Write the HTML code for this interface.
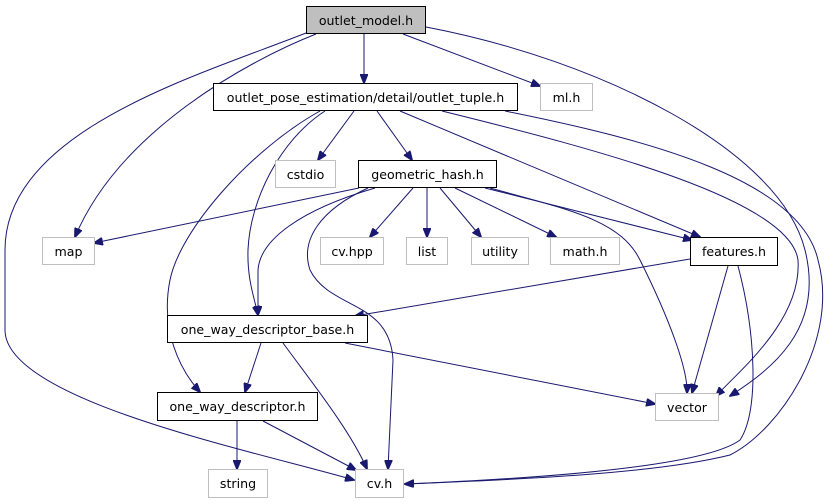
<!DOCTYPE html>
<html><head><meta charset="utf-8"><style>
html,body{margin:0;padding:0;background:#fff;}
svg{display:block;}
text{font-family:"DejaVu Sans","Liberation Sans",sans-serif;font-size:12.6px;fill:#000;}
</style></head><body>
<svg width="835" height="504" viewBox="0 0 835 504" xmlns="http://www.w3.org/2000/svg">
<defs>
<marker id="a" markerWidth="10" markerHeight="8" refX="9" refY="4" orient="auto" markerUnits="userSpaceOnUse">
<path d="M0,0 L10,4 L0,8 Z" fill="#191970" stroke="#191970"/>
</marker>
</defs>
<g fill="none" stroke="#191970" stroke-width="1" marker-end="url(#a)">
<path d="M364,34 L364,83"/>
<path d="M403,34 L540,86"/>
<path d="M316,34 C250,60 120,130 75,237"/>
<path d="M306,33 C200,75 5,130 5,250 L5,330 C5,400 250,450 354,480"/>
<path d="M426,27 C600,60 780,150 805,250 C825,330 770,370 730,396"/>
<path d="M354,111 L318,160"/>
<path d="M377,111 L412,160"/>
<path d="M400,111 L700,237"/>
<path d="M442,111 C600,150 790,200 798,260 C802,320 740,370 716,396"/>
<path d="M505,111 C650,140 800,180 818,260 C840,340 780,430 730,455 C650,475 500,480 405,484"/>
<path d="M325,111 C280,140 250,200 248,250 C247,280 255,300 258,315"/>
<path d="M320,111 C250,150 180,230 170,280 C160,330 180,370 200,392"/>
<path d="M359,188 L94,243"/>
<path d="M413,188 L370,237"/>
<path d="M427,188 L427,237"/>
<path d="M440,188 L481,237"/>
<path d="M455,188 L556,237"/>
<path d="M485,188 L692,240"/>
<path d="M490,188 C570,210 620,220 640,260 C670,320 688,370 687,393"/>
<path d="M375,188 C300,210 260,240 258,270 L258,315"/>
<path d="M368,188 C320,210 300,240 310,270 C330,310 390,300 393,360 L388,469"/>
<path d="M690,259 L355,316"/>
<path d="M728,266 L692,393"/>
<path d="M738,266 C755,330 760,410 740,440 C700,470 500,480 405,484"/>
<path d="M261,343 L245,392"/>
<path d="M283,343 C310,380 350,430 367,469"/>
<path d="M345,343 L655,404"/>
<path d="M237,421 L237,469"/>
<path d="M263,421 L356,470"/>
</g>
<g stroke-width="1">
<rect x="306.5" y="6.5" width="119" height="27" fill="#bfbfbf" stroke="#000"/>
<rect x="213.5" y="83.5" width="304" height="27" fill="#fff" stroke="#000"/>
<rect x="540.5" y="83.5" width="52" height="27" fill="#fff" stroke="#bfbfbf"/>
<rect x="275.5" y="160.5" width="60" height="27" fill="#fff" stroke="#bfbfbf"/>
<rect x="358.5" y="160.5" width="138" height="27" fill="#fff" stroke="#000"/>
<rect x="42.5" y="237.5" width="52" height="27" fill="#fff" stroke="#bfbfbf"/>
<rect x="320.5" y="237.5" width="63" height="27" fill="#fff" stroke="#bfbfbf"/>
<rect x="406.5" y="237.5" width="41" height="27" fill="#fff" stroke="#bfbfbf"/>
<rect x="471.5" y="237.5" width="57" height="27" fill="#fff" stroke="#bfbfbf"/>
<rect x="550.5" y="237.5" width="69" height="27" fill="#fff" stroke="#bfbfbf"/>
<rect x="690.5" y="237.5" width="87" height="28" fill="#fff" stroke="#000"/>
<rect x="167.5" y="315.5" width="200" height="27" fill="#fff" stroke="#000"/>
<rect x="157.5" y="392.5" width="160" height="28" fill="#fff" stroke="#000"/>
<rect x="655.5" y="393.5" width="63" height="27" fill="#fff" stroke="#bfbfbf"/>
<rect x="208.5" y="469.5" width="59" height="28" fill="#fff" stroke="#bfbfbf"/>
<rect x="355.5" y="469.5" width="48" height="28" fill="#fff" stroke="#bfbfbf"/>
</g>
<g text-anchor="middle">
<text x="366" y="25">outlet_model.h</text>
<text x="365.5" y="102">outlet_pose_estimation/detail/outlet_tuple.h</text>
<text x="566.5" y="102">ml.h</text>
<text x="305.5" y="179">cstdio</text>
<text x="427.5" y="179">geometric_hash.h</text>
<text x="68.5" y="256">map</text>
<text x="352" y="256">cv.hpp</text>
<text x="427" y="256">list</text>
<text x="500" y="256">utility</text>
<text x="585" y="256">math.h</text>
<text x="734" y="256">features.h</text>
<text x="267.5" y="334">one_way_descriptor_base.h</text>
<text x="237.5" y="411">one_way_descriptor.h</text>
<text x="687" y="412">vector</text>
<text x="238" y="488">string</text>
<text x="379.5" y="488">cv.h</text>
</g>
</svg>
</body></html>
